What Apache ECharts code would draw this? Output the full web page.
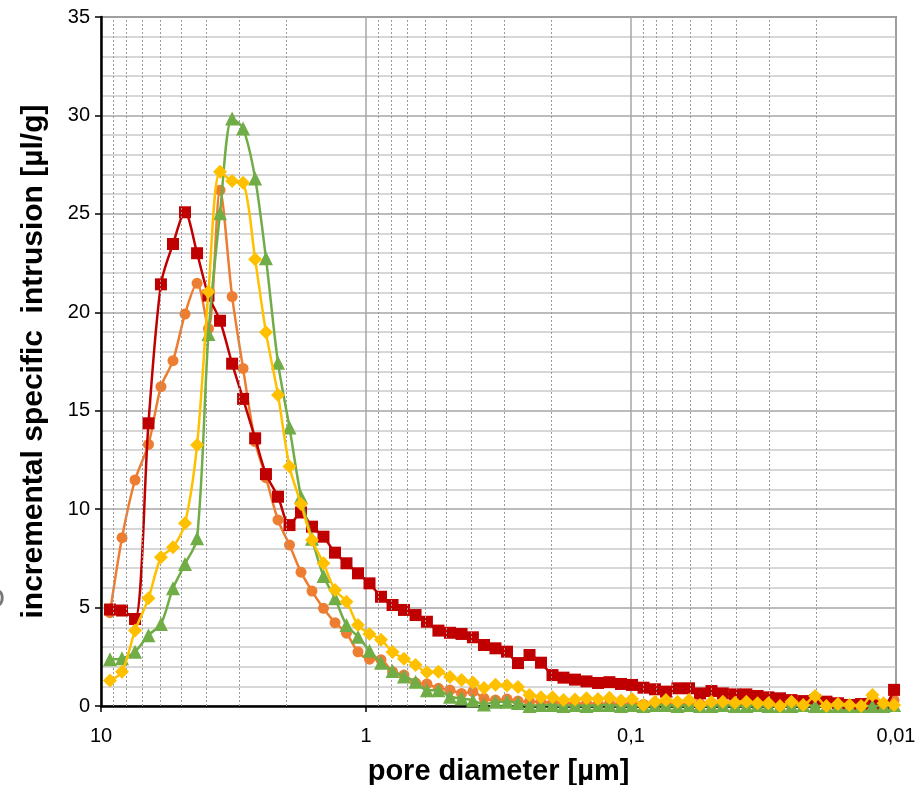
<!DOCTYPE html>
<html><head><meta charset="utf-8">
<script src="https://cdn.jsdelivr.net/npm/echarts@6/dist/echarts.min.js"></script>
<style>html,body{margin:0;padding:0;background:#fff}#chart{width:916px;height:785px}</style>
</head><body><div id="chart"></div>
<script>
const diameters = [9.25, 8.33, 7.44, 6.62, 5.94, 5.35, 4.82, 4.34, 3.93, 3.555,
  3.20, 2.91, 2.62, 2.385, 2.148, 1.944, 1.759, 1.599, 1.447, 1.309,
  1.185, 1.072, 0.970, 0.878, 0.794, 0.719, 0.650, 0.589, 0.533, 0.482,
  0.436, 0.395, 0.3587, 0.3246, 0.2937, 0.2669, 0.2415, 0.2186, 0.1978, 0.1798,
  0.1627, 0.1472, 0.1332, 0.1206, 0.1091, 0.0991, 0.0897, 0.0812, 0.0738, 0.0668,
  0.0604, 0.0549, 0.0497, 0.0450, 0.0405, 0.0367, 0.0333, 0.0303, 0.0274, 0.0248,
  0.0224, 0.0202, 0.0183, 0.01656, 0.01498, 0.01355, 0.01227, 0.01115, 0.01017];

const redValues = [4.9, 4.85, 4.42, 14.36, 21.42, 23.47, 25.08, 23.0, 20.85, 19.57,
  17.39, 15.6, 13.6, 11.78, 10.63, 9.19, 9.83, 9.11, 8.6, 7.79,
  7.25, 6.74, 6.23, 5.55, 5.13, 4.88, 4.62, 4.28, 3.83, 3.72,
  3.66, 3.49, 3.1, 2.93, 2.76, 2.18, 2.59, 2.2, 1.57, 1.44,
  1.34, 1.25, 1.17, 1.21, 1.12, 1.07, 0.93, 0.85, 0.73, 0.9,
  0.9, 0.64, 0.76, 0.64, 0.59, 0.59, 0.51, 0.44, 0.39, 0.3,
  0.25, 0.3, 0.22, 0.14, 0.05, 0.1, 0.02, 0.0, 0.82];

const orangeValues = [4.74, 8.55, 11.48, 13.29, 16.22, 17.54, 19.91, 21.47, 19.17, 26.2,
  20.8, 17.15, 13.43, 11.6, 9.45, 8.18, 6.8, 5.84, 4.96, 4.23,
  3.7, 2.75, 2.38, 2.35, 1.74, 1.57, 1.18, 1.12, 0.9, 0.81,
  0.64, 0.73, 0.39, 0.3, 0.35, 0.25, 0.22, 0.22, 0.15, 0.2,
  0.1, 0.15, 0.1, 0.12, 0.1, 0.1, 0.08, 0.12, 0.1, 0.1,
  0.08, 0.1, 0.1, 0.08, 0.1, 0.08, 0.1, 0.08, 0.05, 0.1,
  0.08, 0.1, 0.05, 0.08, 0.05, 0.1, 0.45, 0.1, 0.3];

const yellowValues = [1.29, 1.74, 3.83, 5.47, 7.55, 8.06, 9.28, 13.26, 21.04, 27.14,
  26.67, 26.58, 22.69, 18.98, 15.8, 12.16, 10.26, 8.43, 7.25, 5.89,
  5.3, 4.11, 3.66, 3.37, 2.74, 2.4, 2.08, 1.72, 1.74, 1.47,
  1.32, 1.2, 0.92, 1.08, 1.04, 0.96, 0.56, 0.45, 0.45, 0.3,
  0.33, 0.39, 0.35, 0.42, 0.28, 0.35, 0.05, 0.22, 0.3, 0.22,
  0.3, 0.05, 0.22, 0.22, 0.17, 0.22, 0.14, 0.14, 0.0, 0.22,
  0.05, 0.51, 0.0, 0.1, 0.05, 0.0, 0.56, 0.14, 0.05];

const greenValues = [2.37, 2.42, 2.76, 3.6, 4.17, 5.98, 7.21, 8.52, 18.9, 25.03,
  29.85, 29.34, 26.8, 22.74, 17.44, 14.15, 10.63, 8.5, 6.6, 5.47,
  4.11, 3.52, 2.81, 2.2, 1.78, 1.5, 1.23, 0.8, 0.8, 0.47,
  0.39, 0.28, 0.08, 0.22, 0.22, 0.15, 0.0, 0.05, 0.05, 0.0,
  0.05, 0.0, 0.05, 0.05, 0.0, 0.05, 0.0, 0.05, 0.05, 0.0,
  0.05, 0.0, 0.0, 0.05, 0.0, 0.0, 0.05, 0.0, 0.0, 0.0,
  0.05, 0.0, 0.0, 0.0, 0.0, 0.0, 0.0, 0.0, 0.05];

// minor (dotted) vertical gridline values of the log axis
const minorGridX = [9, 8, 7, 6, 5, 4, 3, 2, 0.9, 0.8, 0.7, 0.6, 0.5, 0.4, 0.3, 0.2,
  0.09, 0.08, 0.07, 0.06, 0.05, 0.04, 0.03, 0.02];

const xTitle = 'pore diameter [µm]';
const yTitle = 'incremental specific  intrusion [µl/g]';

function pairs(vals) { return diameters.map((d, i) => [d, vals[i]]); }

const FONT = 'Arial, "Liberation Sans", sans-serif';

function lineSeries(vals, color, symbol, size, z) {
  return {
    type: 'line', data: pairs(vals), smooth: 0.3, z: z,
    symbol: symbol, symbolSize: size, showSymbol: true,
    lineStyle: { color: color, width: 2.5 },
    itemStyle: { color: color, borderWidth: 0 },
    emphasis: { disabled: true }
  };
}

const chart = echarts.init(document.getElementById('chart'), null, { renderer: 'canvas' });
chart.setOption({
  animation: false,
  backgroundColor: '#fff',
  grid: { left: 101, right: 20, top: 17, bottom: 79, containLabel: false, outerBoundsMode: 'none',
    show: true, borderColor: '#8c8c8c', borderWidth: 2, backgroundColor: 'transparent' },
  xAxis: {
    type: 'log', logBase: 10, min: 0.01, max: 10, inverse: true,
    name: xTitle, nameLocation: 'middle', nameGap: 51,
    nameTextStyle: { fontFamily: FONT, fontWeight: 'bold', fontSize: 29, color: '#000' },
    axisLine: { onZero: false, lineStyle: { color: '#000', width: 2.5 } },
    axisTick: { show: true, length: 6, lineStyle: { color: '#000', width: 1.5 } },
    axisLabel: { fontFamily: FONT, fontSize: 20, color: '#000', margin: 20,
      formatter: v => String(Number(Number(v).toPrecision(6))).replace('.', ',') },
    splitLine: { show: true, lineStyle: { color: '#a6a6a6', width: 1.5 } },
    minorTick: { show: false }, minorSplitLine: { show: false }
  },
  yAxis: {
    type: 'value', min: 0, max: 35, interval: 5,
    name: yTitle, nameLocation: 'middle', nameGap: 52,
    nameTextStyle: { fontFamily: FONT, fontWeight: 'bold', fontSize: 30, color: '#000' },
    axisLine: { show: true, onZero: false, lineStyle: { color: '#000', width: 2.5 } },
    axisTick: { show: true, length: 6, lineStyle: { color: '#000', width: 1.5 } },
    axisLabel: { fontFamily: FONT, fontSize: 20, color: '#000', margin: 11 },
    splitLine: { show: true, lineStyle: { color: '#a6a6a6', width: 1.5 } },
    minorTick: { show: false, splitNumber: 5 },
    minorSplitLine: { show: true, lineStyle: { color: '#cacaca', width: 1.5 } }
  },
  graphic: [{
    type: 'text', x: 5, y: 600, silent: true,
    style: { text: 'O', font: '30px ' + FONT, fill: '#777', align: 'right', verticalAlign: 'middle' }
  }],
  series: [
    {
      type: 'line', data: [], z: 1, silent: true,
      markLine: {
        silent: true, animation: false, symbol: ['none', 'none'], label: { show: false },
        lineStyle: { color: '#9a9a9a', type: [2, 2], width: 1 },
        emphasis: { disabled: true },
        data: minorGridX.map(v => ({ xAxis: v }))
      }
    },
    lineSeries(orangeValues, '#ED7D31', 'circle', 11, 3),
    lineSeries(redValues, '#C00000', 'rect', 12, 4),
    lineSeries(greenValues, '#70AD47', 'triangle', 14, 5),
    lineSeries(yellowValues, '#FFC000', 'diamond', 14, 6)
  ]
});
</script>
</body></html>
